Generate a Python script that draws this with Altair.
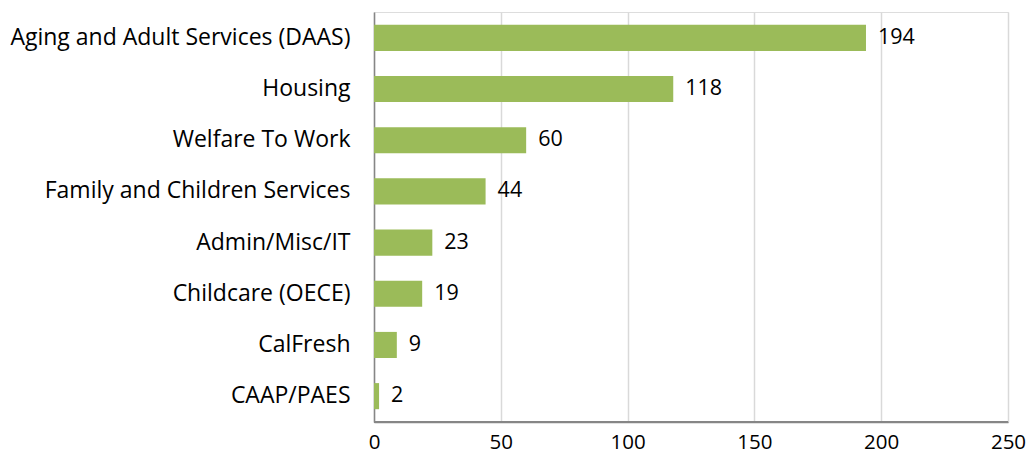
import altair as alt
import pandas as pd

categories = ["Aging and Adult Services (DAAS)", "Housing", "Welfare To Work",
              "Family and Children Services", "Admin/Misc/IT", "Childcare (OECE)",
              "CalFresh", "CAAP/PAES"]
values = [194, 118, 60, 44, 23, 19, 9, 2]
x_ticks = [0, 50, 100, 150, 200, 250]

df = pd.DataFrame({"cat": categories, "val": values})
FONT = "Open Sans"
W, H = 634, 410

y = alt.Y("cat:N", sort=categories, title=None,
          scale=alt.Scale(paddingInner=0.49, paddingOuter=0.25),
          axis=alt.Axis(labelFontSize=23, labelFont=FONT, labelColor="#000000",
                        labelPadding=24, ticks=False, domainColor="#868686",
                        domainWidth=1.5, grid=False, labelLimit=400))
x = alt.X("val:Q", title=None, scale=alt.Scale(domain=[0, 250], nice=False),
          axis=alt.Axis(values=x_ticks, labelFontSize=20.5, labelFont=FONT,
                        labelColor="#000000", labelPadding=10, ticks=False,
                        domain=True, domainColor="#868686", domainWidth=1.5,
                        grid=True, gridColor="#D9D9D9", gridWidth=1.5,
                        labelFlush=False))

bars = alt.Chart(df).mark_bar(color="#9BBB59").encode(x=x, y=y)
text = alt.Chart(df).mark_text(align="left", baseline="middle", dx=12, fontSize=21.5,
                               font=FONT, color="#000000").encode(
    x=x, y=y, text="val:Q")
baseline = alt.Chart(df).mark_rule(color="#868686", strokeWidth=1.5).encode(
    x=alt.value(0), x2=alt.value(W), y=alt.value(H))

chart = (bars + text + baseline).properties(
    width=W, height=H,
    autosize=alt.AutoSizeParams(type="none"),
    padding={"left": 366, "top": 4, "right": 18, "bottom": 35},
).configure_view(stroke=None).configure(background="#FFFFFF")

chart.save("out.html", embed_options={"renderer": "svg", "actions": False})
